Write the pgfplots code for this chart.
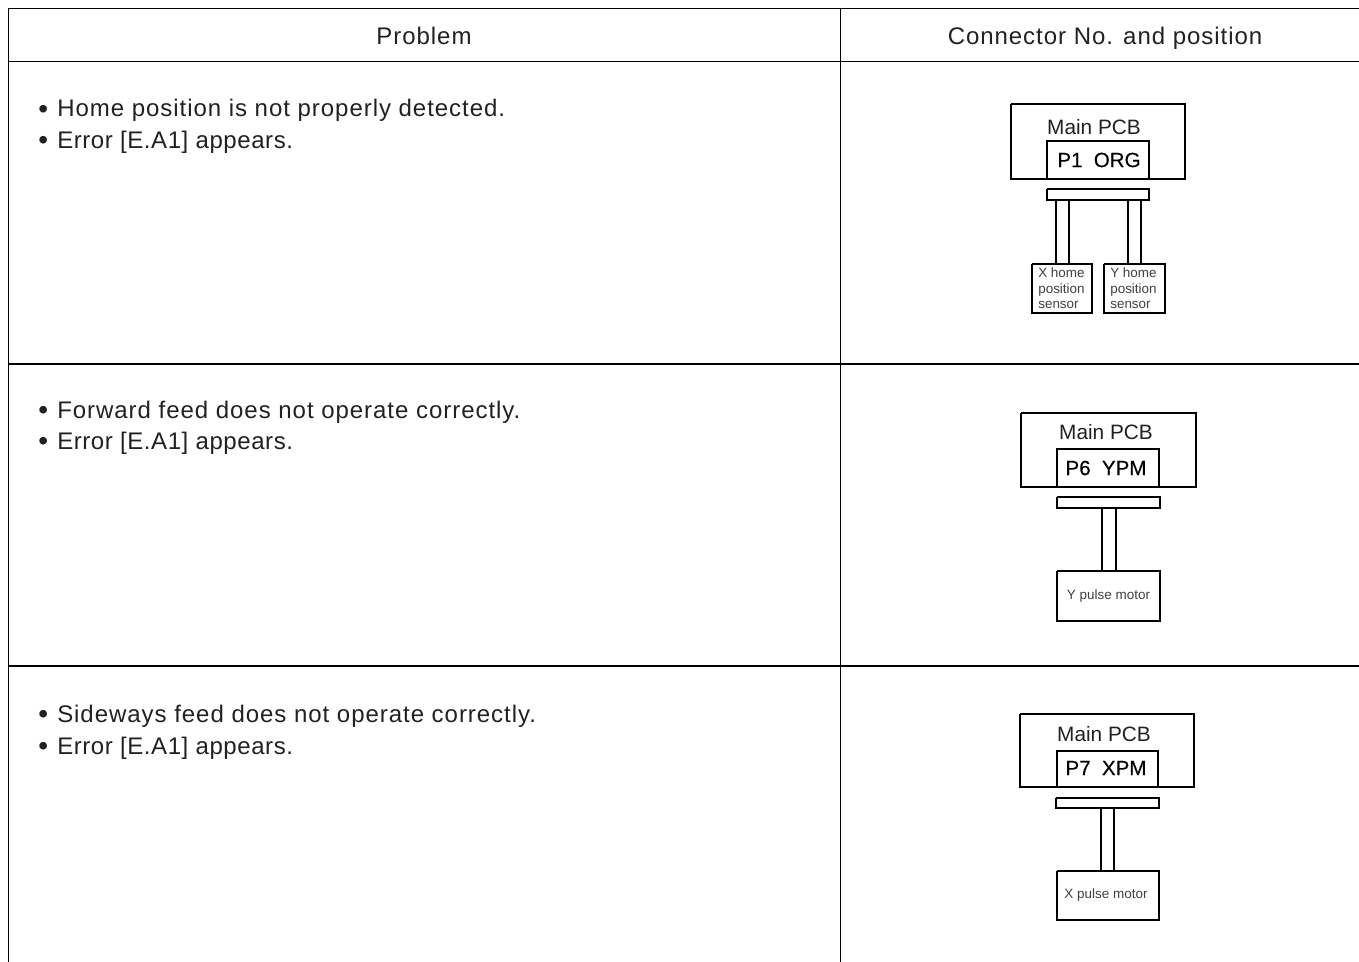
\documentclass[border=0pt]{standalone}
\usepackage{pgfplots}
\pgfplotsset{compat=1.18}
\usepackage{fontspec}
\setmainfont{Liberation Sans}
\newfontfamily\spacedfont[LetterSpace=4]{Liberation Sans}
\newfontfamily\tighterfont[LetterSpace=2.4]{Liberation Sans}
\newfontfamily\boldishfont[FakeBold=0.35]{Liberation Sans}
\definecolor{tabletextcol}{gray}{0.13}
\definecolor{smallgray}{gray}{0.25}
\newcommand{\tabletext}[1]{{\fontsize{18}{21}\selectfont\spacedfont\color{tabletextcol}#1}}
\newcommand{\bulmark}{\makebox[14.25pt][l]{\raisebox{-1pt}{\fontsize{21}{21}\selectfont •}}}
\newcommand{\bultext}[1]{{\fontsize{18}{21}\selectfont\spacedfont\color{tabletextcol}\bulmark #1}}
\newcommand{\bulerror}[1]{{\fontsize{18}{21}\selectfont\tighterfont\color{tabletextcol}\bulmark #1}}
\newcommand{\pcbtext}[1]{{\fontsize{15.6}{18}\selectfont\color{tabletextcol}#1}}
\newcommand{\conntext}[1]{{\fontsize{15.4}{18}\selectfont\boldishfont #1}}
\newcommand{\smalltxt}[1]{{\fontsize{10.1}{11.6}\selectfont\color{smallgray}#1}}
\pgfplotsset{rule/.style={black,no marks,line width=1.1pt},box/.style={black,no marks,line width=1.8pt},wire/.style={black,no marks,line width=1.5pt}}
\begin{document}
\begin{tikzpicture}
\path[use as bounding box] (0,0) rectangle (1019.25pt,721.5pt);
\begin{axis}[at={(0,0)},anchor=south west,scale only axis,width=1019.25pt,height=721.5pt,
  xmin=0,xmax=1359,ymin=0,ymax=962,y dir=reverse,axis lines=none,clip=true]
\addplot[rule] coordinates {(8.5,962) (8.5,8.5) (1359,8.5)};
\addplot[rule] coordinates {(8.5,61.5) (1359,61.5)};
\addplot[rule] coordinates {(8.5,364) (1359,364)};
\addplot[rule] coordinates {(8.5,666) (1359,666)};
\addplot[rule] coordinates {(840.5,8.5) (840.5,962)};
\addplot[box] coordinates {(1011,104) (1185,104) (1185,179) (1011,179) (1011,104)};
\addplot[box] coordinates {(1047,179) (1047,141) (1149,141) (1149,179)};
\addplot[box] coordinates {(1047,189) (1149,189) (1149,200) (1047,200) (1047,189)};
\addplot[wire] coordinates {(1056,200) (1056,264)};
\addplot[wire] coordinates {(1069,200) (1069,264)};
\addplot[wire] coordinates {(1128,200) (1128,264)};
\addplot[wire] coordinates {(1141,200) (1141,264)};
\addplot[box] coordinates {(1032,264) (1092,264) (1092,313) (1032,313) (1032,264)};
\addplot[box] coordinates {(1104,264) (1165,264) (1165,313) (1104,313) (1104,264)};
\addplot[box] coordinates {(1021,413) (1196,413) (1196,487) (1021,487) (1021,413)};
\addplot[box] coordinates {(1057,487) (1057,449) (1159,449) (1159,487)};
\addplot[box] coordinates {(1057,497) (1160,497) (1160,508) (1057,508) (1057,497)};
\addplot[wire] coordinates {(1102,508) (1102,571)};
\addplot[wire] coordinates {(1116,508) (1116,571)};
\addplot[box] coordinates {(1057,571) (1160,571) (1160,621) (1057,621) (1057,571)};
\addplot[box] coordinates {(1020,714) (1194,714) (1194,787) (1020,787) (1020,714)};
\addplot[box] coordinates {(1057,787) (1057,751) (1158,751) (1158,787)};
\addplot[box] coordinates {(1056,798) (1159,798) (1159,808) (1056,808) (1056,798)};
\addplot[wire] coordinates {(1101,808) (1101,871)};
\addplot[wire] coordinates {(1114,808) (1114,871)};
\addplot[box] coordinates {(1057,871) (1159,871) (1159,920) (1057,920) (1057,871)};
\node[anchor=base,inner sep=0pt] at (axis cs:424,45) {\tabletext{Problem}};
\node[anchor=base,inner sep=0pt] at (axis cs:1105,45) {\tabletext{Connector No. and position}};
\node[anchor=base west,inner sep=0pt] at (axis cs:38,117) {\bultext{Home position is not properly detected.}};
\node[anchor=base west,inner sep=0pt] at (axis cs:38,148.5) {\bulerror{Error [E.A1] appears.}};
\node[anchor=base west,inner sep=0pt] at (axis cs:38,418.5) {\bultext{Forward feed does not operate correctly.}};
\node[anchor=base west,inner sep=0pt] at (axis cs:38,449.5) {\bulerror{Error [E.A1] appears.}};
\node[anchor=base west,inner sep=0pt] at (axis cs:38,722.5) {\bultext{Sideways feed does not operate correctly.}};
\node[anchor=base west,inner sep=0pt] at (axis cs:38,754.5) {\bulerror{Error [E.A1] appears.}};
\node at (axis cs:1094,127) {\pcbtext{Main PCB}};
\node at (axis cs:1099,160) {\conntext{P1\hspace{0.55em}ORG}};
\node at (axis cs:1106,432) {\pcbtext{Main PCB}};
\node at (axis cs:1106,468) {\conntext{P6\hspace{0.55em}YPM}};
\node at (axis cs:1104,734) {\pcbtext{Main PCB}};
\node at (axis cs:1106,768) {\conntext{P7\hspace{0.55em}XPM}};
\node[align=left,anchor=west,inner sep=0pt,text=smallgray,font=\fontsize{10.1}{11.6}\selectfont] at (axis cs:1038,288.5) {X home\\position\\sensor};
\node[align=left,anchor=west,inner sep=0pt,text=smallgray,font=\fontsize{10.1}{11.6}\selectfont] at (axis cs:1110,288.5) {Y home\\position\\sensor};
\node at (axis cs:1108.5,596) {\smalltxt{Y pulse motor}};
\node at (axis cs:1106,895.5) {\smalltxt{X pulse motor}};
\end{axis}
\end{tikzpicture}
\end{document}
